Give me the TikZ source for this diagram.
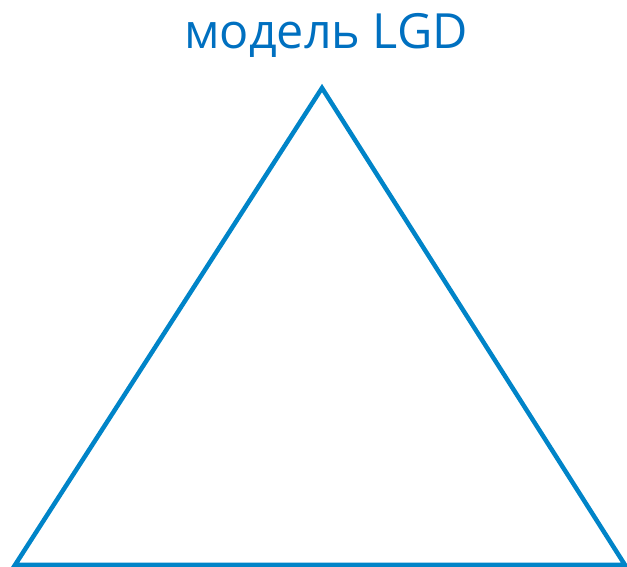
\documentclass[tikz,border=0pt]{standalone}
\usepackage{fontspec}
\setmainfont{Open Sans}
\definecolor{tri}{HTML}{0084C8}
\definecolor{ttl}{HTML}{0070C0}
\begin{document}
\begin{tikzpicture}[x=1pt,y=1pt,
  tristyle/.style={draw=tri,line width=4.5pt,line join=miter},
  titlestyle/.style={text=ttl,font=\fontsize{48.5}{56}\selectfont,anchor=base,inner sep=0}]
\useasboundingbox (0,0) rectangle (627,567);
\node[titlestyle] (title) at (326,518) {модель LGD};
\coordinate (apex) at (322,479);
\coordinate (bl) at (15,2);
\coordinate (br) at (625,2);
\draw[tristyle] (apex) -- (bl) -- (br) -- cycle;
\end{tikzpicture}
\end{document}
